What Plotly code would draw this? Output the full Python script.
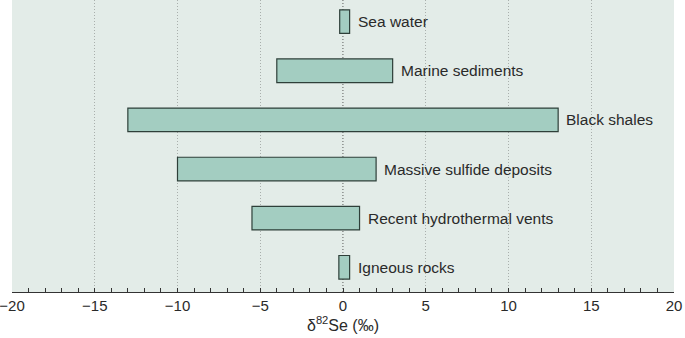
import plotly.graph_objects as go

categories = ["Sea water", "Marine sediments", "Black shales",
              "Massive sulfide deposits", "Recent hydrothermal vents", "Igneous rocks"]
low_values = [-0.2, -4.0, -13.0, -10.0, -5.5, -0.25]
high_values = [0.4, 3.0, 13.0, 2.0, 1.0, 0.4]
tick_values = [-20, -15, -10, -5, 0, 5, 10, 15, 20]
tick_labels = ["\u221220", "\u221215", "\u221210", "\u22125", "0", "5", "10", "15", "20"]

widths = [h - l for l, h in zip(low_values, high_values)]

fig = go.Figure()
fig.add_trace(go.Bar(
    y=categories, x=widths, base=low_values, orientation="h",
    width=0.48,
    marker=dict(color="#a3cdc1", line=dict(color="#2e3f39", width=1.2)),
    hoverinfo="skip",
))

for c, h in zip(categories, high_values):
    fig.add_annotation(x=h, y=c, text=c, showarrow=False, xanchor="left",
                       yanchor="middle", xshift=6,
                       font=dict(size=15.5, color="#2a2a2a",
                                 family="Liberation Sans, Arial, sans-serif"))

fig.add_shape(type="line", x0=0, x1=0, y0=0, y1=1, yref="paper",
              line=dict(color="#444444", width=1, dash="1px,2px"), layer="below")

fig.update_layout(
    width=685, height=338,
    margin=dict(l=12, r=11, t=0, b=46, autoexpand=False),
    paper_bgcolor="white",
    plot_bgcolor="#e3ece8",
    showlegend=False,
    font=dict(family="Liberation Sans, Arial, sans-serif", size=15, color="#2a2a2a"),
    xaxis=dict(
        range=[-20, 20], tickvals=tick_values, ticktext=tick_labels,
        showgrid=True, gridcolor="#a9afac", griddash="1px,2px", gridwidth=1,
        zeroline=False, automargin=False, ticklabeloverflow="allow",
        showline=True, linecolor="#333333", linewidth=1,
        ticks="inside", ticklen=4, tickcolor="#333333", tickwidth=1,
        minor=dict(dtick=1, ticks="inside", ticklen=4, tickcolor="#333333", showgrid=False),
        tickfont=dict(size=15),
        title=dict(text="\u03b4<sup>82</sup>Se (\u2030)", font=dict(size=16), standoff=6),
        fixedrange=True,
    ),
    yaxis=dict(
        categoryorder="array", categoryarray=categories,
        range=[5.503, -0.44], automargin=False,
        showticklabels=False, showgrid=False, zeroline=False, showline=False,
        ticks="", fixedrange=True,
    ),
)

fig.write_html("out.html", config={"displayModeBar": False},
               post_script="document.body.style.margin='0px';document.body.style.overflow='hidden';")
